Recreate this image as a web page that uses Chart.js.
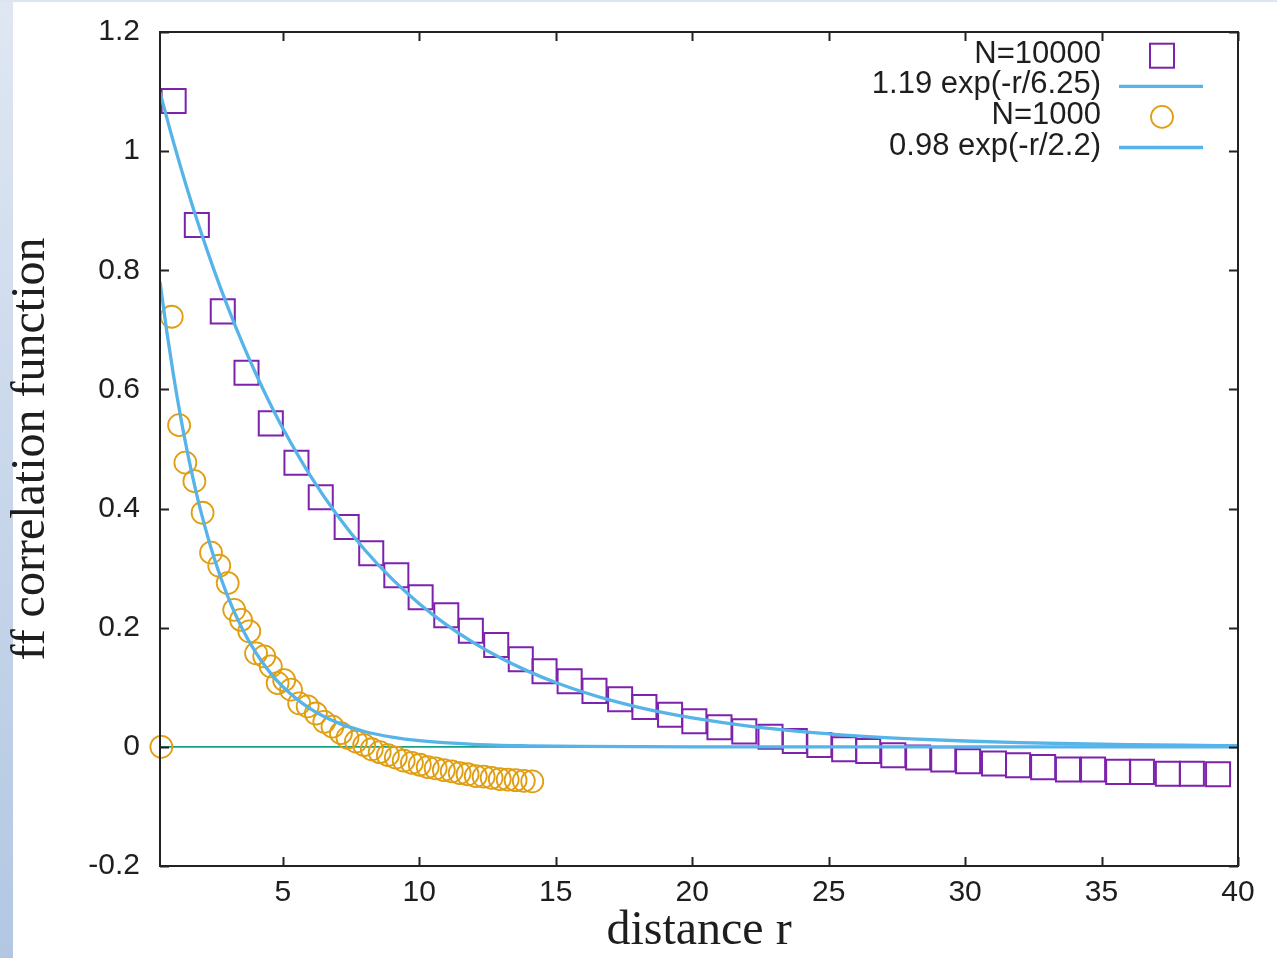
<!DOCTYPE html>
<html>
<head>
<meta charset="utf-8">
<script src="https://cdn.jsdelivr.net/npm/chart.js@4.4.1/dist/chart.umd.min.js"></script>
<style>
  html, body { margin: 0; padding: 0; background: #ffffff; width: 1277px; height: 958px; overflow: hidden; }
  #strip { position: absolute; left: 0; top: 0; width: 13px; height: 958px; background: linear-gradient(to bottom, #dfe7f2, #b3c7e3); }
  #topstrip { position: absolute; left: 0; top: 0; width: 1277px; height: 2px; background: #dde5f0; }
  #c { position: absolute; left: 0; top: 0; }
</style>
</head>
<body>
<div id="strip"></div>
<div id="topstrip"></div>
<canvas id="c" width="1277" height="958"></canvas>
<script>
// ---- data ----
const labels = ["N=10000", "1.19 exp(-r/6.25)", "N=1000", "0.98 exp(-r/2.2)"];

const sqR = [1.00,1.85,2.80,3.67,4.56,5.50,6.39,7.34,8.24,9.16,10.05,10.99,11.89,12.82,13.72,14.59,15.51,16.42,17.36,18.25,19.19,20.08,21.00,21.91,22.87,23.76,24.66,25.57,26.45,27.37,28.28,29.20,30.11,31.06,31.94,32.86,33.77,34.69,35.61,36.48,37.43,38.31,39.27];
const sqV = [1.084,0.876,0.731,0.628,0.543,0.477,0.419,0.369,0.325,0.288,0.251,0.221,0.195,0.171,0.147,0.127,0.110,0.094,0.080,0.067,0.054,0.043,0.033,0.026,0.017,0.010,0.003,-0.004,-0.007,-0.014,-0.018,-0.021,-0.024,-0.028,-0.031,-0.034,-0.038,-0.038,-0.042,-0.042,-0.045,-0.045,-0.046];

const ciR = [0.55,0.93,1.20,1.43,1.76,2.06,2.37,2.67,2.98,3.22,3.47,3.77,4.02,4.32,4.56,4.81,5.05,5.30,5.60,5.91,6.21,6.52,6.82,7.13,7.37,7.68,7.98,8.26,8.55,8.85,9.14,9.43,9.73,10.02,10.31,10.60,10.90,11.19,11.48,11.77,12.07,12.36,12.65,12.95,13.24,13.53,13.83,14.14];
const ciV = [0,0.722,0.540,0.477,0.446,0.393,0.326,0.304,0.275,0.230,0.213,0.194,0.157,0.152,0.135,0.107,0.112,0.096,0.073,0.068,0.056,0.042,0.034,0.023,0.015,0.009,0.003,-0.004,-0.009,-0.014,-0.018,-0.023,-0.027,-0.030,-0.034,-0.036,-0.039,-0.041,-0.044,-0.046,-0.049,-0.050,-0.052,-0.054,-0.055,-0.056,-0.057,-0.058];

const fit1R = [0.5,1,1.5,2,2.5,3,3.5,4,4.5,5,6,7,8,9,10,11,12,13,14,15,16,17,18,19,20,22,24,26,28,30,32,34,36,38,40];
const fit1V = [1.0985,1.0141,0.9361,0.8641,0.7977,0.7364,0.6797,0.6275,0.5792,0.5347,0.4556,0.3883,0.3309,0.2819,0.2403,0.2047,0.1745,0.1487,0.1267,0.1080,0.0920,0.0784,0.0668,0.0569,0.0485,0.0352,0.0256,0.0186,0.0135,0.0098,0.0071,0.0052,0.0037,0.0027,0.0020];

const fit2R = [0.5,0.75,1,1.25,1.5,1.75,2,2.5,3,3.5,4,4.5,5,6,7,8,9,10,12,14,16,20,30,40];
const fit2V = [0.7808,0.6969,0.6220,0.5552,0.4956,0.4423,0.3948,0.3145,0.2506,0.1996,0.1591,0.1267,0.1010,0.0641,0.0407,0.0258,0.0164,0.0104,0.0042,0.0017,0.0007,0.0001,0,0];

const zeroR = [0.5, 40];
const zeroV = [0, 0];

const xTicks = [5,10,15,20,25,30,35,40];
const yTicks = [-0.2,0,0.2,0.4,0.6,0.8,1,1.2];
const xRange = [0.5, 40];
const yRange = [-0.2, 1.2];

// ---- styles ----
const PURPLE = '#7d22ad';
const ORANGE = '#e09e10';
const BLUE = '#56b4e9';
const TEAL = '#18a08a';
const INK = '#1e1e1e';

const pts = (xs, ys) => xs.map((x, i) => ({x: x, y: ys[i]}));

const noScalePadding = s => { s.paddingTop = 0; s.paddingBottom = 0; s.paddingLeft = 0; s.paddingRight = 0; };

const frameAndLegend = {
  id: 'frameAndLegend',
  afterDraw(chart) {
    const {ctx, chartArea: a, scales} = chart;
    const xs = scales.x, ys = scales.y;
    ctx.save();
    ctx.strokeStyle = '#222';
    ctx.lineWidth = 2;
    ctx.strokeRect(a.left, a.top, a.right - a.left, a.bottom - a.top);
    const L = 9;
    ctx.beginPath();
    xs.ticks.forEach(t => {
      const p = Math.round(xs.getPixelForValue(t.value)) + 0.5;
      ctx.moveTo(p, a.bottom); ctx.lineTo(p, a.bottom - L);
      ctx.moveTo(p, a.top); ctx.lineTo(p, a.top + L);
    });
    ys.ticks.forEach(t => {
      const p = Math.round(ys.getPixelForValue(t.value)) + 0.5;
      ctx.moveTo(a.left, p); ctx.lineTo(a.left + L, p);
      ctx.moveTo(a.right, p); ctx.lineTo(a.right - L, p);
    });
    ctx.stroke();

    // legend (gnuplot style: text right-aligned, sample on the right)
    const ds = chart.data.datasets.filter(d => d.inKey).sort((p, q) => p.keyIndex - q.keyIndex);
    ctx.font = '31px "Liberation Sans", Arial, sans-serif';
    ctx.textAlign = 'right';
    ctx.textBaseline = 'alphabetic';
    ds.forEach((d, i) => {
      const base = 62.7 + 30.6 * i;
      ctx.fillStyle = INK;
      ctx.fillText(d.label, 1101, base);
      const cy = base - 7;
      const cx = 1162;
      ctx.strokeStyle = d.borderColor;
      ctx.lineWidth = d.borderWidth;
      if (d.showLine) {
        ctx.beginPath();
        ctx.moveTo(1119, cy); ctx.lineTo(1203, cy);
        ctx.stroke();
      } else if (d.pointStyle === 'rect') {
        ctx.strokeRect(cx - 12, cy - 12, 24, 24);
      } else {
        ctx.beginPath();
        ctx.arc(cx, cy, d.pointRadius, 0, Math.PI * 2);
        ctx.stroke();
      }
    });
    ctx.restore();
  }
};

new Chart(document.getElementById('c'), {
  type: 'scatter',
  data: {
    datasets: [
      { label: labels[0], inKey: true, keyIndex: 0, data: pts(sqR, sqV), showLine: false,
        pointStyle: 'rect', pointRadius: 17, borderWidth: 2, borderColor: PURPLE,
        backgroundColor: 'rgba(0,0,0,0)', clip: false, order: 4 },
      { label: labels[1], inKey: true, keyIndex: 1, data: pts(fit1R, fit1V), showLine: true,
        pointRadius: 0, borderWidth: 3.3, borderColor: BLUE, cubicInterpolationMode: 'monotone', order: 3 },
      { label: labels[2], inKey: true, keyIndex: 2, data: pts(ciR, ciV), showLine: false,
        pointStyle: 'circle', pointRadius: 11, borderWidth: 1.8, borderColor: ORANGE,
        backgroundColor: 'rgba(0,0,0,0)', clip: false, order: 2 },
      { label: labels[3], inKey: true, keyIndex: 3, data: pts(fit2R, fit2V), showLine: true,
        pointRadius: 0, borderWidth: 3.3, borderColor: BLUE, cubicInterpolationMode: 'monotone', order: 1 },
      { label: 'zero', inKey: false, data: pts(zeroR, zeroV), showLine: true,
        pointRadius: 0, borderWidth: 1.6, borderColor: TEAL, order: 5 }
    ]
  },
  options: {
    responsive: false,
    animation: false,
    devicePixelRatio: 1,
    layout: { padding: { left: 0, right: 39, top: 32, bottom: 0 } },
    plugins: { legend: { display: false }, tooltip: { enabled: false } },
    elements: { point: { hoverRadius: 0 } },
    scales: {
      x: {
        type: 'linear', min: xRange[0], max: xRange[1],
        grid: { display: false, drawTicks: false },
        border: { display: false },
        afterBuildTicks: s => { s.ticks = xTicks.map(v => ({value: v})); },
        afterFit: s => { s.height = 92; noScalePadding(s); },
        ticks: { padding: 9, color: INK, font: { family: '"Liberation Sans", Arial, sans-serif', size: 30 },
                 callback: v => String(v), maxRotation: 0, autoSkip: false },
        title: { display: true, text: 'distance r', color: INK,
                 font: { family: '"Liberation Serif", "Times New Roman", serif', size: 48, lineHeight: 1 },
                 padding: { top: 0, bottom: 3 } }
      },
      y: {
        type: 'linear', min: yRange[0], max: yRange[1],
        grid: { display: false, drawTicks: false },
        border: { display: false },
        afterBuildTicks: s => { s.ticks = yTicks.map(v => ({value: v})); },
        afterFit: s => { s.width = 160; noScalePadding(s); },
        ticks: { padding: 20, color: INK, font: { family: '"Liberation Sans", Arial, sans-serif', size: 30 },
                 callback: v => String(Math.round(v * 10) / 10), autoSkip: false },
        title: { display: true, text: 'ff correlation function', color: INK,
                 font: { family: '"Liberation Serif", "Times New Roman", serif', size: 48, lineHeight: 1 },
                 padding: { top: 7, bottom: 0 } }
      }
    }
  },
  plugins: [frameAndLegend]
});
</script>
</body>
</html>
